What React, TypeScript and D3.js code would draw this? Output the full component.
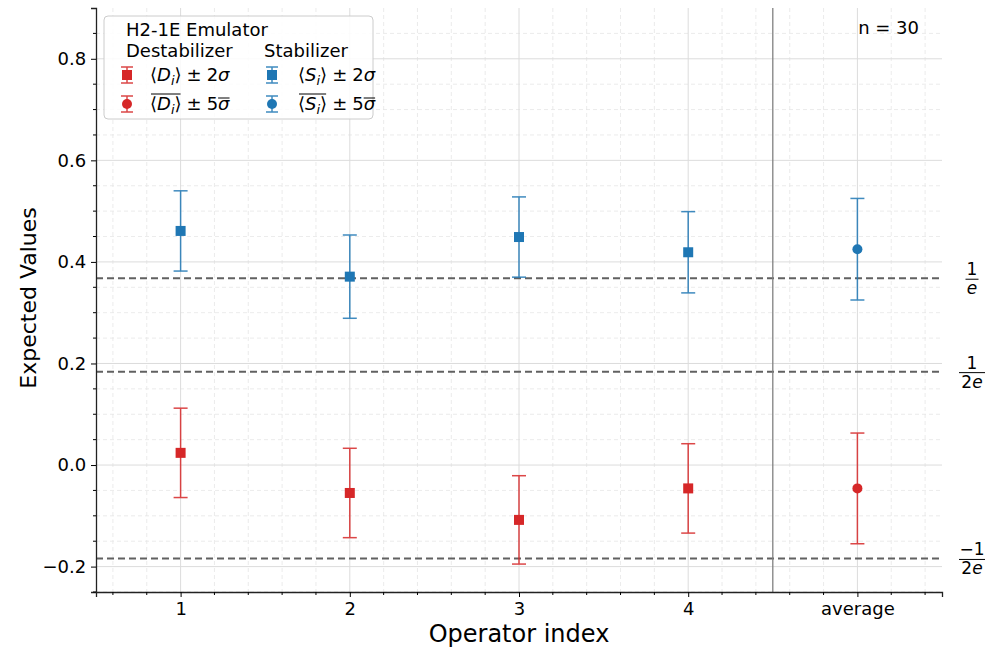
import React, { useEffect, useRef } from 'react';
import * as d3 from 'd3';

const categories = ['1', '2', '3', '4', 'average'];
const stabMean = [0.461, 0.371, 0.449, 0.419, 0.425];
const stabErr = [0.079, 0.082, 0.079, 0.08, 0.1];
const destabMean = [0.024, -0.055, -0.108, -0.046, -0.046];
const destabErr = [0.088, 0.088, 0.087, 0.088, 0.109];
const yTicks = [-0.2, 0, 0.2, 0.4, 0.6, 0.8];
const refLines = [
  { value: 1 / Math.E, num: '1', den: 'e' },
  { value: 1 / (2 * Math.E), num: '1', den: '2e' },
  { value: -1 / (2 * Math.E), num: '\u22121', den: '2e' },
];

const RED = '#d62728';
const BLUE = '#1f77b4';
const FONT = 'DejaVu Sans, sans-serif';

const App: React.FC = () => {
  const svgRef = useRef<SVGSVGElement>(null);

  useEffect(() => {
    if (!svgRef.current) return;
    const svg = d3.select(svgRef.current);
    svg.selectAll('*').remove();

    const margin = { top: 8, right: 55, bottom: 63, left: 96 };
    const width = 997;
    const height = 655;
    const innerW = width - margin.left - margin.right;
    const innerH = height - margin.top - margin.bottom;

    const x = d3.scaleLinear().domain([0.5, 5.5]).range([0, innerW]);
    const y = d3.scaleLinear().domain([-0.25, 0.9]).range([innerH, 0]);

    const g = svg.append('g').attr('transform', `translate(${margin.left},${margin.top})`);

    // minor grid
    const xMinor = d3.range(0.6, 5.5, 0.2).filter(v => Math.abs(v - Math.round(v)) > 0.01);
    const yMinor = d3.range(-0.25, 0.9, 0.05).filter(v => Math.abs(v * 5 - Math.round(v * 5)) > 0.01);
    g.selectAll('.gxm').data(xMinor).enter().append('line')
      .attr('x1', d => x(d)).attr('x2', d => x(d)).attr('y1', 0).attr('y2', innerH)
      .attr('stroke', '#e6e6e6').attr('stroke-width', 0.8).attr('stroke-dasharray', '4,3');
    g.selectAll('.gym').data(yMinor).enter().append('line')
      .attr('x1', 0).attr('x2', innerW).attr('y1', d => y(d)).attr('y2', d => y(d))
      .attr('stroke', '#e6e6e6').attr('stroke-width', 0.8).attr('stroke-dasharray', '4,3');

    // major grid
    g.selectAll('.gx').data(d3.range(1, 6)).enter().append('line')
      .attr('x1', d => x(d)).attr('x2', d => x(d)).attr('y1', 0).attr('y2', innerH)
      .attr('stroke', '#dcdcdc').attr('stroke-width', 1);
    g.selectAll('.gy').data(yTicks).enter().append('line')
      .attr('x1', 0).attr('x2', innerW).attr('y1', d => y(d)).attr('y2', d => y(d))
      .attr('stroke', '#dcdcdc').attr('stroke-width', 1);

    // reference lines
    g.selectAll('.ref').data(refLines).enter().append('line')
      .attr('x1', 0).attr('x2', innerW).attr('y1', d => y(d.value)).attr('y2', d => y(d.value))
      .attr('stroke', '#616161').attr('stroke-width', 2).attr('stroke-dasharray', '7,4');

    // separator
    g.append('line').attr('x1', x(4.5)).attr('x2', x(4.5)).attr('y1', 0).attr('y2', innerH)
      .attr('stroke', '#808080').attr('stroke-width', 1.3);

    // axes
    const xAxis = g.append('g').attr('transform', `translate(0,${innerH})`);
    xAxis.call(d3.axisBottom(x).tickValues(d3.range(1, 6)).tickSize(5).tickFormat((_, i) => categories[i]));
    xAxis.append('g').selectAll('line').data(xMinor).enter().append('line')
      .attr('x1', d => x(d)).attr('x2', d => x(d)).attr('y1', 0).attr('y2', 3).attr('stroke', '#000');
    const yAxis = g.append('g');
    yAxis.call(d3.axisLeft(y).tickValues(yTicks).tickSize(5).tickFormat(d => {
      const v = d as number;
      return (v < 0 ? '\u2212' : '') + Math.abs(v).toFixed(1);
    }));
    yAxis.append('g').selectAll('line').data(yMinor).enter().append('line')
      .attr('x1', 0).attr('x2', -3).attr('y1', d => y(d)).attr('y2', d => y(d)).attr('stroke', '#000');
    [xAxis, yAxis].forEach(a => {
      a.select('.domain').attr('stroke', '#222').attr('stroke-width', 1.3);
      a.selectAll('.tick text').attr('font-family', FONT).attr('font-size', 18).attr('fill', '#000');
    });
    xAxis.selectAll('.tick text').attr('dy', '0.82em');
    yAxis.selectAll('.tick text').attr('dx', '-0.1em');

    // error bars
    const drawSeries = (means: number[], errs: number[], color: string) => {
      means.forEach((m, i) => {
        const cx = x(i + 1);
        const e = errs[i];
        const bar = g.append('g').attr('stroke', color).attr('stroke-width', 1.5).attr('opacity', 0.85);
        bar.append('line').attr('x1', cx).attr('x2', cx).attr('y1', y(m - e)).attr('y2', y(m + e));
        [m - e, m + e].forEach(v => {
          bar.append('line').attr('x1', cx - 7).attr('x2', cx + 7).attr('y1', y(v)).attr('y2', y(v));
        });
        if (i < 4) {
          g.append('rect').attr('x', cx - 5).attr('y', y(m) - 5).attr('width', 10).attr('height', 10).attr('fill', color);
        } else {
          g.append('circle').attr('cx', cx).attr('cy', y(m)).attr('r', 5).attr('fill', color);
        }
      });
    };
    drawSeries(stabMean, stabErr, BLUE);
    drawSeries(destabMean, destabErr, RED);

    // right labels (fractions)
    refLines.forEach(r => {
      const yy = margin.top + y(r.value);
      const cx = 972;
      const lg = svg.append('g').attr('font-family', FONT).attr('font-size', 17).attr('text-anchor', 'middle');
      const w = r.den.length > 1 || r.num.length > 1 ? 26 : 13;
      lg.append('text').attr('x', cx).attr('y', yy - 3).text(r.num);
      lg.append('line').attr('x1', cx - w / 2).attr('x2', cx + w / 2).attr('y1', yy + 1).attr('y2', yy + 1)
        .attr('stroke', '#000').attr('stroke-width', 1);
      const den = lg.append('text').attr('x', cx).attr('y', yy + 16);
      if (r.den === 'e') den.append('tspan').attr('font-style', 'italic').text('e');
      else {
        den.append('tspan').text('2');
        den.append('tspan').attr('font-style', 'italic').text('e');
      }
    });

    // labels
    svg.append('text').attr('x', 519).attr('y', 642).attr('text-anchor', 'middle')
      .attr('font-family', FONT).attr('font-size', 24).text('Operator index');
    svg.append('text').attr('transform', `translate(36,${margin.top + innerH / 2 - 2}) rotate(-90)`)
      .attr('text-anchor', 'middle').attr('font-family', FONT).attr('font-size', 22).text('Expected Values');
    svg.append('text').attr('x', 919).attr('y', 34).attr('text-anchor', 'end')
      .attr('font-family', FONT).attr('font-size', 18).text('n = 30');

    // legend
    const leg = svg.append('g').attr('font-family', FONT).attr('font-size', 18);
    leg.append('rect').attr('x', 104).attr('y', 16).attr('width', 269).attr('height', 103).attr('rx', 4)
      .attr('fill', 'rgba(255,255,255,0.85)').attr('stroke', '#ccc');
    leg.append('text').attr('x', 126).attr('y', 36).text('H2-1E Emulator');
    leg.append('text').attr('x', 126).attr('y', 57).text('Destabilizer');
    leg.append('text').attr('x', 264).attr('y', 57).text('Stabilizer');

    const legMarker = (mx: number, my: number, color: string, square: boolean) => {
      const mg = leg.append('g').attr('stroke', color).attr('stroke-width', 1.5).attr('opacity', 0.85);
      mg.append('line').attr('x1', mx).attr('x2', mx).attr('y1', my - 8).attr('y2', my + 8);
      mg.append('line').attr('x1', mx - 6).attr('x2', mx + 6).attr('y1', my - 8).attr('y2', my - 8);
      mg.append('line').attr('x1', mx - 6).attr('x2', mx + 6).attr('y1', my + 8).attr('y2', my + 8);
      if (square) leg.append('rect').attr('x', mx - 5).attr('y', my - 5).attr('width', 10).attr('height', 10).attr('fill', color);
      else leg.append('circle').attr('cx', mx).attr('cy', my).attr('r', 5).attr('fill', color);
    };
    const legText = (tx: number, ty: number, sym: string, k: string, bar: boolean) => {
      let cx = tx;
      const piece = (txt: string, italic = false, sub = false) => {
        const el = leg.append('text').attr('x', cx).attr('y', ty + (sub ? 4 : 0))
          .attr('font-size', sub ? 13 : 18).attr('font-style', italic ? 'italic' : null).text(txt);
        const start = cx;
        cx += (el.node() as SVGTextElement).getComputedTextLength();
        return [start, cx];
      };
      const [s0] = piece('\u27E8');
      piece(sym, true);
      piece('i', true, true);
      const [, e0] = piece('\u27E9');
      cx += 5;
      piece('\u00B1');
      cx += 5;
      piece(k);
      const [s1, e1] = piece('\u03C3', true);
      if (bar) {
        leg.append('line').attr('x1', s0 + 1).attr('x2', e0 - 1).attr('y1', ty - 16).attr('y2', ty - 16)
          .attr('stroke', '#000').attr('stroke-width', 1);
        leg.append('line').attr('x1', s1).attr('x2', e1).attr('y1', ty - 12).attr('y2', ty - 12)
          .attr('stroke', '#000').attr('stroke-width', 1);
      }
    };
    legMarker(127, 75, RED, true);
    legMarker(127, 104, RED, false);
    legMarker(272, 75, BLUE, true);
    legMarker(272, 104, BLUE, false);
    legText(150, 81, 'D', '2', false);
    legText(150, 110, 'D', '5', true);
    legText(298, 81, 'S', '2', false);
    legText(298, 110, 'S', '5', true);
  }, []);

  return (
    <svg ref={svgRef} width={997} height={655} style={{ position: 'absolute', left: 0, top: 0, background: '#fff' }} />
  );
};

export default App;
